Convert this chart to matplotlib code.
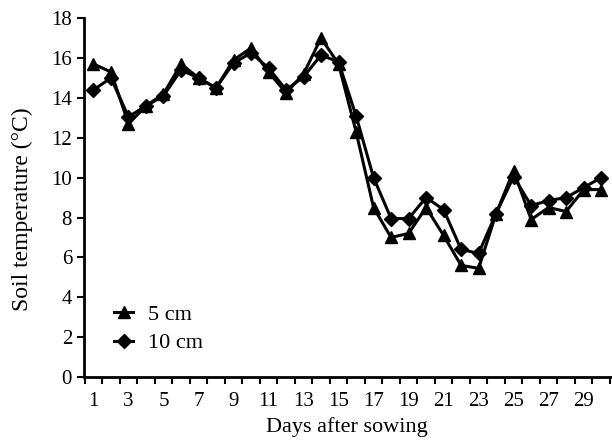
import matplotlib
matplotlib.use("Agg")
import matplotlib.pyplot as plt
import numpy as np

days = list(range(1, 31))
temp_5cm = [15.7, 15.3, 12.7, 13.6, 14.2, 15.7, 15.0, 14.5, 15.9, 16.5,
            15.3, 14.25, 15.2, 17.0, 15.7, 12.3, 8.5, 7.0, 7.2, 8.5,
            7.1, 5.6, 5.45, 8.2, 10.35, 7.9, 8.5, 8.3, 9.4, 9.4]
temp_10cm = [14.4, 15.0, 13.05, 13.6, 14.1, 15.4, 15.0, 14.5, 15.75, 16.25,
             15.5, 14.4, 15.05, 16.15, 15.8, 13.1, 10.0, 7.95, 7.95, 9.0,
             8.4, 6.4, 6.2, 8.2, 10.05, 8.6, 8.85, 9.0, 9.5, 10.0]

plt.rcParams['font.family'] = ['Liberation Serif', 'DejaVu Serif']

fig = plt.figure(figsize=(6.12, 4.42), dpi=100)
ax = fig.add_axes([0.137, 0.147, 0.861, 0.812])

ax.plot(days, temp_5cm, color='black', lw=2.2, marker='^', markersize=9, label='5 cm')
ax.plot(days, temp_10cm, color='black', lw=2.2, marker='D', markersize=7, label='10 cm')

ax.set_xlim(0.45, 30.55)
ax.set_ylim(0, 18)
ax.set_yticks(np.arange(0, 19, 2))
ax.set_xticks(days[::2])
ax.set_xticks(np.arange(0.5, 31, 1), minor=True)
ax.tick_params(axis='x', which='major', length=0, pad=11, labelsize=15)
ax.tick_params(axis='x', which='minor', length=5, width=1.5, direction='out')
ax.tick_params(axis='y', length=5, width=1.5, direction='out', labelsize=15)

for s in ['top', 'right']:
    ax.spines[s].set_visible(False)
for s in ['left', 'bottom']:
    ax.spines[s].set_linewidth(2)

ax.set_xlabel("Days after sowing", fontsize=16, labelpad=4)
ax.set_ylabel("Soil temperature (\u00b0C)", fontsize=17)
ax.yaxis.set_label_coords(-0.097, 0.468)

ax.legend(loc='lower left', bbox_to_anchor=(0.02, 0.01), frameon=False, fontsize=16,
          handlelength=0.85, handletextpad=0.65, labelspacing=0.35)

fig.savefig("out.png", dpi=100)
